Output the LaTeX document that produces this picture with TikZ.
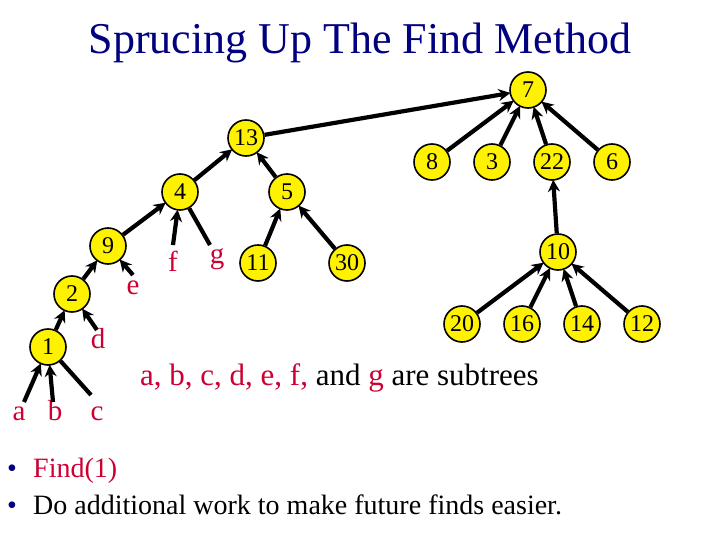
\documentclass[tikz,border=0pt]{standalone}
\usepackage{fontspec}
\setmainfont{Liberation Serif}
\usetikzlibrary{arrows.meta}
\definecolor{navy}{RGB}{0,0,128}
\definecolor{crim}{RGB}{204,0,51}
\tikzset{
  nd/.style={circle,draw=black,line width=1.6pt,fill=yellow,minimum size=36pt,inner sep=0pt,font=\fontsize{24}{24}\selectfont},
  lt/.style={text=crim,inner sep=0pt,anchor=base,font=\fontsize{29}{29}\selectfont},
  ed/.style={line width=4.2pt,-{Stealth[length=12pt,width=12pt]},shorten >=-1pt},
  pl/.style={line width=4.2pt}
}
\begin{document}
\begin{tikzpicture}[x=1pt,y=-1pt]
\useasboundingbox (0,0) rectangle (720,540);
\node[text=navy,anchor=base,font=\fontsize{44}{44}\selectfont] (title) at (360,54) {Sprucing Up The Find Method};
% nodes
\node[nd] (n7) at (528,90) {7};
\node[nd] (n13) at (246,138) {13};
\node[nd] (n8) at (432,162) {8};
\node[nd] (n3) at (492,162) {3};
\node[nd] (n22) at (552,162) {22};
\node[nd] (n6) at (612,162) {6};
\node[nd] (n4) at (180,192) {4};
\node[nd] (n5) at (287,192) {5};
\node[nd] (n9) at (108,246) {9};
\node[nd] (n11) at (258,263) {11};
\node[nd] (n30) at (347,263) {30};
\node[nd] (n10) at (558,252) {10};
\node[nd] (n2) at (72,294) {2};
\node[nd] (n1) at (48,347) {1};
\node[nd] (n20) at (462,324) {20};
\node[nd] (n16) at (522,324) {16};
\node[nd] (n14) at (582,324) {14};
\node[nd] (n12) at (642,324) {12};
% letters
\node[lt] (la) at (19,420) {a};
\node[lt] (lb) at (55,420) {b};
\node[lt] (lc) at (97,420) {c};
\node[lt] (ld) at (98,348) {d};
\node[lt] (le) at (133,294) {e};
\node[lt] (lf) at (173,271) {f};
\node[lt] (lg) at (217,263) {g};
\coordinate (ca) at (24,402);
\coordinate (cb) at (53,402);
\coordinate (cc) at (91,395);
\coordinate (cd) at (97,330);
\coordinate (ce) at (133,275);
\coordinate (cf) at (173,245);
\coordinate (cg) at (210,245);
% edges
\draw[ed] (n13) -- (n7);
\draw[ed] (n8) -- (n7);
\draw[ed] (n3) -- (n7);
\draw[ed] (n22) -- (n7);
\draw[ed] (n6) -- (n7);
\draw[ed] (n10) -- (n22);
\draw[ed] (n20) -- (n10);
\draw[ed] (n16) -- (n10);
\draw[ed] (n14) -- (n10);
\draw[ed] (n12) -- (n10);
\draw[ed] (n4) -- (n13);
\draw[ed] (n5) -- (n13);
\draw[ed] (n11) -- (n5);
\draw[ed] (n30) -- (n5);
\draw[ed] (n9) -- (n4);
\draw[ed] (cf) -- (n4);
\draw[pl] (cg) -- (n4);
\draw[ed] (n2) -- (n9);
\draw[ed] (ce) -- (n9);
\draw[ed] (n1) -- (n2);
\draw[ed] (cd) -- (n2);
\draw[ed] (ca) -- (n1);
\draw[ed] (cb) -- (n1);
\draw[pl] (cc) -- (n1);
% subtitle
\node[anchor=base west,inner sep=0pt,font=\fontsize{31}{31}\selectfont] (sub) at (140,385) {\textcolor{crim}{a, b, c, d, e, f,} and \textcolor{crim}{g} are subtrees};
% bullets
\node[text=navy,anchor=base,inner sep=0pt,font=\fontsize{28}{28}\selectfont] (b1) at (12,477) {•};
\node[text=crim,anchor=base west,inner sep=0pt,font=\fontsize{28}{28}\selectfont] (t1) at (33,477) {Find(1)};
\node[text=navy,anchor=base,inner sep=0pt,font=\fontsize{28}{28}\selectfont] (b2) at (12,514) {•};
\node[anchor=base west,inner sep=0pt,font=\fontsize{28}{28}\selectfont] (t2) at (33,514) {Do additional work to make future finds easier.};
\end{tikzpicture}
\end{document}
